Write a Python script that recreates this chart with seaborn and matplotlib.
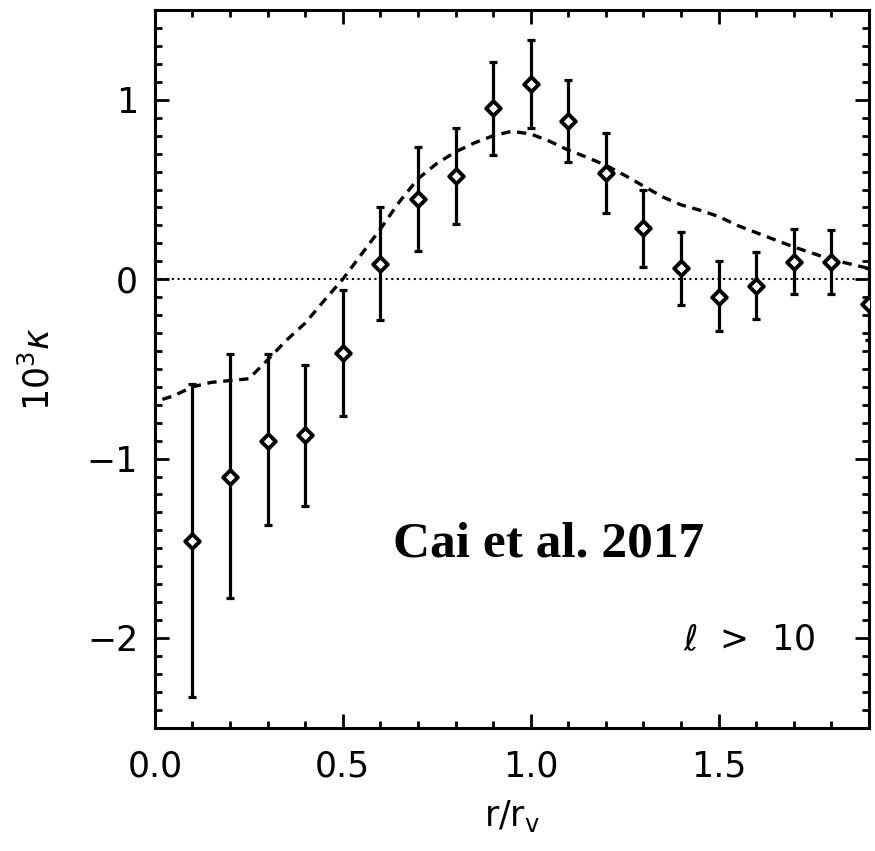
import numpy as np
import pandas as pd
import matplotlib
matplotlib.use("Agg")
import matplotlib.pyplot as plt
from matplotlib.ticker import MultipleLocator
import seaborn as sns

# measured points
r_pts = [0.1, 0.2, 0.3, 0.4, 0.5, 0.6, 0.7, 0.8, 0.9, 1.0, 1.1, 1.2, 1.3, 1.4, 1.5, 1.6, 1.7, 1.8, 1.9]
kappa = [-1.46, -1.10, -0.90, -0.87, -0.41, 0.085, 0.45, 0.576, 0.954, 1.089, 0.883, 0.595, 0.284, 0.061, -0.097, -0.036, 0.095, 0.095, -0.14]
err_hi = [-0.585, -0.417, -0.417, -0.48, -0.06, 0.40, 0.74, 0.846, 1.21, 1.335, 1.113, 0.814, 0.498, 0.265, 0.102, 0.154, 0.279, 0.275, 0.06]
err_lo = [-2.33, -1.776, -1.37, -1.266, -0.76, -0.23, 0.16, 0.307, 0.695, 0.846, 0.652, 0.371, 0.070, -0.143, -0.288, -0.223, -0.084, -0.082, -0.34]

# model curve (dashed)
r_model = [0.02, 0.05, 0.10, 0.15, 0.20, 0.25, 0.30, 0.35, 0.40, 0.45, 0.50, 0.55, 0.60, 0.65, 0.70,
           0.75, 0.80, 0.85, 0.90, 0.95, 1.00, 1.05, 1.10, 1.15, 1.20, 1.25, 1.30, 1.35, 1.40, 1.45,
           1.50, 1.55, 1.60, 1.65, 1.70, 1.75, 1.80, 1.85, 1.90]
k_model = [-0.67, -0.65, -0.60, -0.575, -0.565, -0.555, -0.45, -0.34, -0.245, -0.12, 0.0, 0.14, 0.28, 0.43, 0.56,
           0.645, 0.71, 0.76, 0.80, 0.825, 0.81, 0.77, 0.72, 0.68, 0.635, 0.58, 0.52, 0.46, 0.415, 0.385,
           0.35, 0.30, 0.26, 0.22, 0.18, 0.145, 0.11, 0.085, 0.06]

x_ticks = [0.0, 0.5, 1.0, 1.5]
x_ticklabels = ["0.0", "0.5", "1.0", "1.5"]
y_ticks = [-2, -1, 0, 1]
y_ticklabels = ["\u22122", "\u22121", "0", "1"]

sns.set_style("ticks")
plt.rcParams['font.family'] = ['DejaVu Sans']
plt.rcParams['mathtext.fontset'] = 'dejavusans'
plt.rcParams['text.color'] = 'black'
plt.rcParams['axes.labelcolor'] = 'black'
plt.rcParams['xtick.color'] = 'black'
plt.rcParams['ytick.color'] = 'black'

fig = plt.figure(figsize=(8.75, 8.51), dpi=100)
ax = fig.add_axes([0.177, 0.145, 0.816, 0.843])

pts = pd.DataFrame({"r": r_pts, "k": kappa, "lo": err_lo, "hi": err_hi})
model = pd.DataFrame({"r": r_model, "k": k_model})

# zero line
ax.axhline(0, color="black", lw=1.5, linestyle=(0, (1, 1.7)), zorder=1)

# model curve
sns.lineplot(data=model, x="r", y="k", ax=ax, color="black", lw=2.4,
             linestyle=(0, (2.8, 2.0)), zorder=2)

# error bars
k = np.array(kappa)
yerr = np.vstack([k - np.array(err_lo), np.array(err_hi) - k])
ax.errorbar(r_pts, kappa, yerr=yerr, fmt="none", ecolor="black", elinewidth=2.3,
            capsize=3.2, capthick=2.3, zorder=3)
sns.scatterplot(data=pts, x="r", y="k", ax=ax, marker="D", s=55, color="white",
                edgecolor="black", linewidth=2.8, zorder=4)

ax.set_xlim(0, 1.9)
ax.set_ylim(-2.5, 1.5)
ax.set_xticks(x_ticks)
ax.set_xticklabels(x_ticklabels)
ax.set_yticks(y_ticks)
ax.set_yticklabels(y_ticklabels)
ax.xaxis.set_minor_locator(MultipleLocator(0.1))
ax.yaxis.set_minor_locator(MultipleLocator(0.1))
ax.tick_params(which="both", direction="in", top=True, right=True, width=2.0, color="black",
               labelcolor="black")
ax.tick_params(which="major", length=10, labelsize=25)
ax.tick_params(axis="x", which="major", pad=16)
ax.tick_params(axis="y", which="major", pad=12)
ax.tick_params(which="minor", length=5)
for s in ax.spines.values():
    s.set_linewidth(2.2)
    s.set_color("black")

ax.set_xlabel("r/r$_\\mathrm{v}$", fontsize=25, labelpad=10, color="black")
ax.set_ylabel("10$^3$$\\kappa$", fontsize=25, labelpad=22, color="black")

ax.text(0.552, 0.255, "Cai et al. 2017", transform=ax.transAxes, ha="center", va="center",
        fontsize=37, fontweight="bold", color="black", family=["Liberation Serif", "DejaVu Serif"])
ax.text(0.924, 0.122, "$\\ell$  >  10", transform=ax.transAxes, ha="right", va="center",
        fontsize=25, color="black")

fig.savefig("out.png", dpi=100)
